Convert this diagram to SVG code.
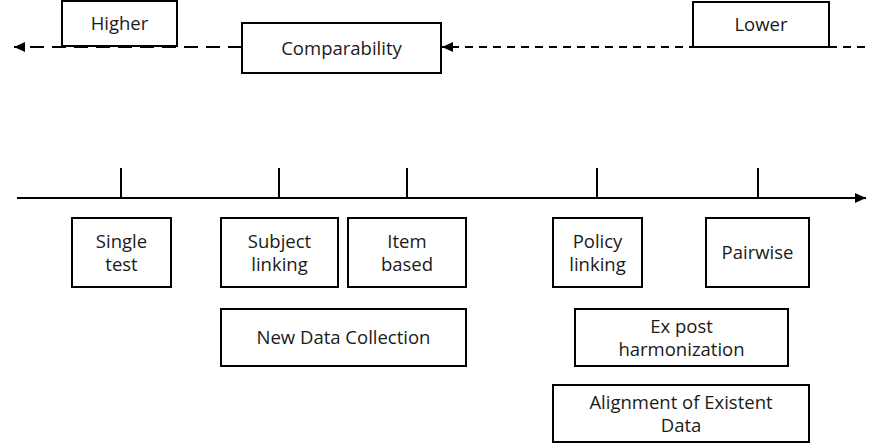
<svg xmlns="http://www.w3.org/2000/svg" width="880" height="448" viewBox="0 0 880 448">
<style>
.box{fill:#fff;stroke:#000;stroke-width:2}
.t{font-family:"Open Sans","Noto Sans",sans-serif;font-size:18.5px;fill:#1a1a1a;text-anchor:middle}
.ln{stroke:#000;stroke-width:2;fill:none}
</style>
<defs>
<marker id="ah" markerWidth="12" markerHeight="10" refX="11" refY="5" orient="auto" markerUnits="userSpaceOnUse">
<path d="M0,0 L11,5 L0,10 Z" fill="#000"/>
</marker>
</defs>
<rect width="880" height="448" fill="#fff"/>
<g id="connectors">
<line class="ln" x1="242" y1="47" x2="14" y2="47" stroke-dasharray="14 8" marker-end="url(#ah)"/>
<line class="ln" x1="865" y1="47" x2="442" y2="47" stroke-dasharray="8 6" marker-end="url(#ah)"/>
<line class="ln" x1="17" y1="198" x2="866" y2="198" marker-end="url(#ah)"/>
<line class="ln" x1="121" y1="168" x2="121" y2="198"/>
<line class="ln" x1="279" y1="168" x2="279" y2="198"/>
<line class="ln" x1="407" y1="168" x2="407" y2="198"/>
<line class="ln" x1="597" y1="168" x2="597" y2="198"/>
<line class="ln" x1="758" y1="168" x2="758" y2="198"/>
</g>
<g id="higher"><rect class="box" x="62" y="1" width="115" height="45"/><text class="t" x="119.5" y="29.5">Higher</text></g>
<g id="comparability"><rect class="box" x="242" y="23" width="199" height="50"/><text class="t" x="341.5" y="54.5">Comparability</text></g>
<g id="lower"><rect class="box" x="693" y="2" width="136" height="45"/><text class="t" x="761" y="30.5">Lower</text></g>
<g id="single"><rect class="box" x="72" y="218" width="99" height="69"/><text class="t" x="121.5" y="247.5">Single</text><text class="t" x="121.5" y="270.5">test</text></g>
<g id="subject"><rect class="box" x="221" y="218" width="117" height="69"/><text class="t" x="279.5" y="247.5">Subject</text><text class="t" x="279.5" y="270.5">linking</text></g>
<g id="item"><rect class="box" x="348" y="218" width="118" height="69"/><text class="t" x="407" y="247.5">Item</text><text class="t" x="407" y="270.5">based</text></g>
<g id="policy"><rect class="box" x="553" y="218" width="89" height="69"/><text class="t" x="597.5" y="247.5">Policy</text><text class="t" x="597.5" y="270.5">linking</text></g>
<g id="pairwise"><rect class="box" x="706" y="218" width="103" height="69"/><text class="t" x="757.5" y="258.5">Pairwise</text></g>
<g id="newdata"><rect class="box" x="221" y="309" width="245" height="57"/><text class="t" x="343.5" y="343.5">New Data Collection</text></g>
<g id="expost"><rect class="box" x="575" y="309" width="213" height="57"/><text class="t" x="681.5" y="332.5">Ex post</text><text class="t" x="681.5" y="355.5">harmonization</text></g>
<g id="alignment"><rect class="box" x="553" y="385" width="256" height="57"/><text class="t" x="681" y="409">Alignment of Existent</text><text class="t" x="681" y="432">Data</text></g>
</svg>
